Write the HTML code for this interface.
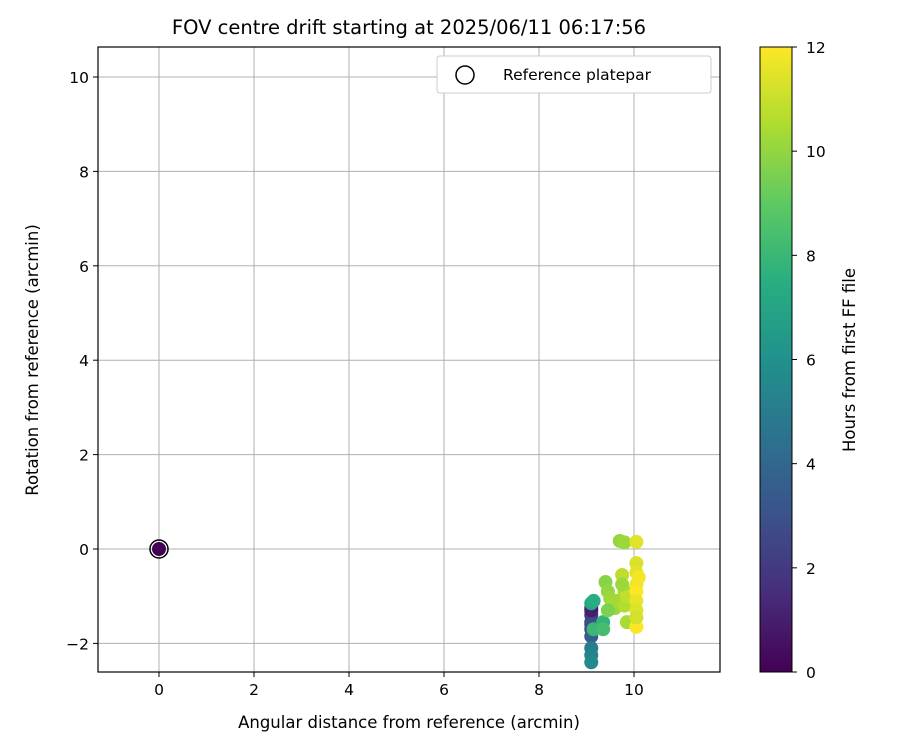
<!DOCTYPE html>
<html><head><meta charset="utf-8"><style>body{margin:0;background:#fff;font-family:"Liberation Sans","DejaVu Sans",sans-serif}</style></head>
<body>
<svg id="c" width="900" height="750" xmlns="http://www.w3.org/2000/svg" font-family="DejaVu Sans, Liberation Sans, sans-serif">
<defs><linearGradient id="vir" x1="0" y1="1" x2="0" y2="0">
<stop offset="0" stop-color="#440154"/><stop offset="0.125" stop-color="#472d7b"/><stop offset="0.25" stop-color="#3b528b"/><stop offset="0.375" stop-color="#2c728e"/><stop offset="0.5" stop-color="#21918c"/><stop offset="0.625" stop-color="#28ae80"/><stop offset="0.75" stop-color="#5ec962"/><stop offset="0.875" stop-color="#addc30"/><stop offset="1" stop-color="#fde725"/></linearGradient></defs>
<text x="409" y="34" font-size="19.5" text-anchor="middle">FOV centre drift starting at 2025/06/11 06:17:56</text>
<g id="grid"></g><g id="pts"></g>
<rect x="98" y="47" width="622" height="625" fill="none" stroke="#000" stroke-width="1.2"/>
<g id="ticks" font-size="15.5"></g>
<text x="409" y="728" font-size="16.5" text-anchor="middle">Angular distance from reference (arcmin)</text>
<text transform="translate(38,360) rotate(-90)" font-size="16.5" text-anchor="middle">Rotation from reference (arcmin)</text>
<g>
<rect x="437" y="56" width="274" height="37" rx="3" fill="#fff" stroke="#ccc"/>
<circle cx="465" cy="75" r="9" fill="none" stroke="#000" stroke-width="1.5"/>
<text x="503" y="80" font-size="15.5">Reference platepar</text></g>
<rect x="760" y="47" width="32" height="625" fill="url(#vir)" stroke="#000"/>
<g id="cb" font-size="15.5"></g>
<text transform="translate(855,360) rotate(-90)" font-size="16.5" text-anchor="middle">Hours from first FF file</text>
</svg>
<script>
const xs=[0,9.1,9.1,9.1,9.1,9.1,9.1,9.1,9.1,9.1,9.1,9.1,9.15,9.15,9.35,9.35,9.4,9.45,9.5,9.55,9.6,9.65,9.75,9.8,9.8,9.85,9.85,9.7,9.8,10.05,10.05,10.05,10.05,10.05,10.05,10.05,10.05,10.1,10.05,9.45,9.75];
const ys=[0,-1.25,-1.4,-1.55,-1.7,-1.85,-2.1,-2.25,-2.4,-1.3,-1.6,-1.15,-1.1,-1.7,-1.55,-1.7,-0.7,-0.9,-1.05,-1.2,-1.25,-1.1,-0.55,-0.9,-1.2,-1.55,-1.0,0.17,0.14,-0.3,-0.5,-0.75,-0.9,-1.1,-1.3,-1.65,0.15,-0.6,-1.45,-1.3,-0.75];
const hrs=[0,1.5,2,2.5,3,3.5,5,5.3,5.6,1,2.8,7,7.5,8,7.8,8.3,9.8,10,10.2,10.4,10.1,10.3,10.8,10.5,10.6,10.4,10.9,10,10.2,11.3,11.5,11.7,12,11.6,11.4,12,11.5,11.8,11.2,9.6,10.2];
const xTicks=[0,2,4,6,8,10],yTicks=[-2,0,2,4,6,8,10],cTicks=[0,2,4,6,8,10,12];
const X=v=>159+v*47.5,Y=v=>549-v*47.2,C=v=>672-v*625/12;
const ns="http://www.w3.org/2000/svg";
function mk(t,a,p){const e=document.createElementNS(ns,t);for(const k in a)e.setAttribute(k,a[k]);p.appendChild(e);return e;}
const st=[[68,1,84],[71,45,123],[59,82,139],[44,114,142],[33,145,140],[40,174,128],[94,201,98],[173,220,48],[253,231,37]];
function vir(h){let t=Math.max(0,Math.min(1,h/12))*8,i=Math.min(7,Math.floor(t)),f=t-i;return 'rgb('+[0,1,2].map(k=>Math.round(st[i][k]+(st[i+1][k]-st[i][k])*f)).join(',')+')';}
const g=document.getElementById('grid'),tk=document.getElementById('ticks'),p=document.getElementById('pts'),cb=document.getElementById('cb');
xTicks.forEach(v=>{const l=mk('line',{x1:X(v),x2:X(v),y1:47,y2:672,stroke:'#b0b0b0'},g);


mk('line',{x1:X(v),x2:X(v),y1:672,y2:677,stroke:'#000'},tk);
const t=mk('text',{x:X(v),y:695,'text-anchor':'middle'},tk);t.textContent=v;

});
yTicks.forEach(v=>{const l=mk('line',{x1:98,x2:720,y1:Y(v),y2:Y(v),stroke:'#b0b0b0'},g);


mk('line',{x1:93,x2:98,y1:Y(v),y2:Y(v),stroke:'#000'},tk);
const t=mk('text',{x:89,y:Y(v)+6,'text-anchor':'end'},tk);t.textContent=v<0?'\u2212'+(-v):v;

});
xs.forEach((x,i)=>{const c=mk('circle',{cx:X(x),cy:Y(ys[i]),r:7,fill:vir(hrs[i])},p);

});
const rp=mk('circle',{cx:X(0),cy:Y(0),r:9,fill:'none',stroke:'#000','stroke-width':1.5},p);


cTicks.forEach(v=>{mk('line',{x1:792,x2:797,y1:C(v),y2:C(v),stroke:'#000'},cb);
const t=mk('text',{x:806,y:C(v)+6},cb);t.textContent=v;

});
</script>
</body></html>
